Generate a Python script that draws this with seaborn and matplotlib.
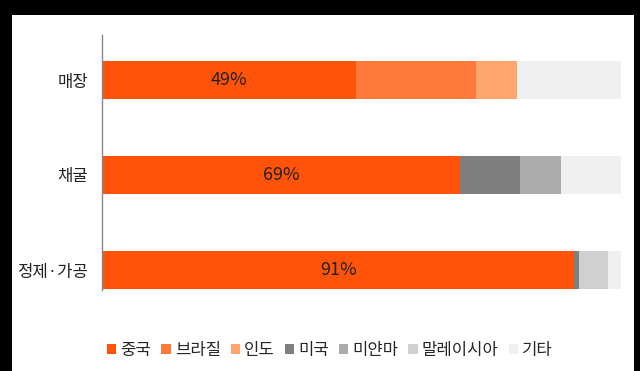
import pandas as pd
import matplotlib.pyplot as plt
import matplotlib.patches as mpatches
import seaborn as sns

# 데이터 (그림에서 읽은 값, %)
stages = ['매장', '채굴', '정제·가공']
countries = ['중국', '브라질', '인도', '미국', '미얀마', '말레이시아', '기타']
china = [49, 69, 91]
brazil = [23, 0, 0]
india = [8, 0, 0]
usa = [0, 11.5, 1]
myanmar = [0, 8, 0]
malaysia = [0, 0, 5.5]
others = [20, 11.5, 2.5]

colors = ['#FF5309', '#FF7A3A', '#FFA56E', '#7F7F7F', '#ABABAB', '#D0D0D0', '#F0F0F0']

sns.set_theme(style="white")
plt.rcParams['font.family'] = ['Noto Sans CJK KR', 'DejaVu Sans']

df = pd.DataFrame({'stage': stages, '중국': china, '브라질': brazil, '인도': india,
                   '미국': usa, '미얀마': myanmar, '말레이시아': malaysia, '기타': others})

fig = plt.figure(figsize=(6.4, 3.71), dpi=100, facecolor='black')
# 흰색 배경 영역
fig.patches.append(mpatches.Rectangle((12 / 640, 0), 622 / 640, 1 - 15 / 371,
                                      transform=fig.transFigure, facecolor='white',
                                      edgecolor='none', zorder=-10))

ax = fig.add_axes([102 / 640, 1 - 290 / 371, 519 / 640, 255 / 371])
ax.set_facecolor('none')

# 누적 합 계산 후 큰 값부터 겹쳐 그리기
cum = df[countries].cumsum(axis=1)
for c, col in reversed(list(zip(countries, colors))):
    sns.barplot(x=cum[c], y=df['stage'], color=col, orient='h', width=0.4,
                saturation=1, ax=ax, linewidth=0)

for i, v in enumerate(china):
    ax.text(v / 2, i, f"{v}%", ha='center', va='center', fontsize=13, color='#222222')

ax.set_xlim(0, 100)
ax.set_ylim(2 + 20 / 95, -45 / 95)
ax.set_xlabel('')
ax.set_ylabel('')
ax.set_xticks([])
ax.tick_params(axis='y', length=0, pad=10, labelsize=12, labelcolor='#222222')
for s in ['top', 'right', 'bottom']:
    ax.spines[s].set_visible(False)
ax.spines['left'].set_color('#888888')
ax.spines['left'].set_linewidth(1)

handles = [mpatches.Patch(facecolor=col, edgecolor='none', label=c) for c, col in zip(countries, colors)]
fig.legend(handles=handles, loc='center', bbox_to_anchor=(330 / 640, 1 - 350 / 371), ncol=7,
           frameon=False, fontsize=12, handlelength=0.55, handleheight=0.55,
           handletextpad=0.25, columnspacing=0.6)

fig.savefig('out.png', dpi=100, facecolor='black')
